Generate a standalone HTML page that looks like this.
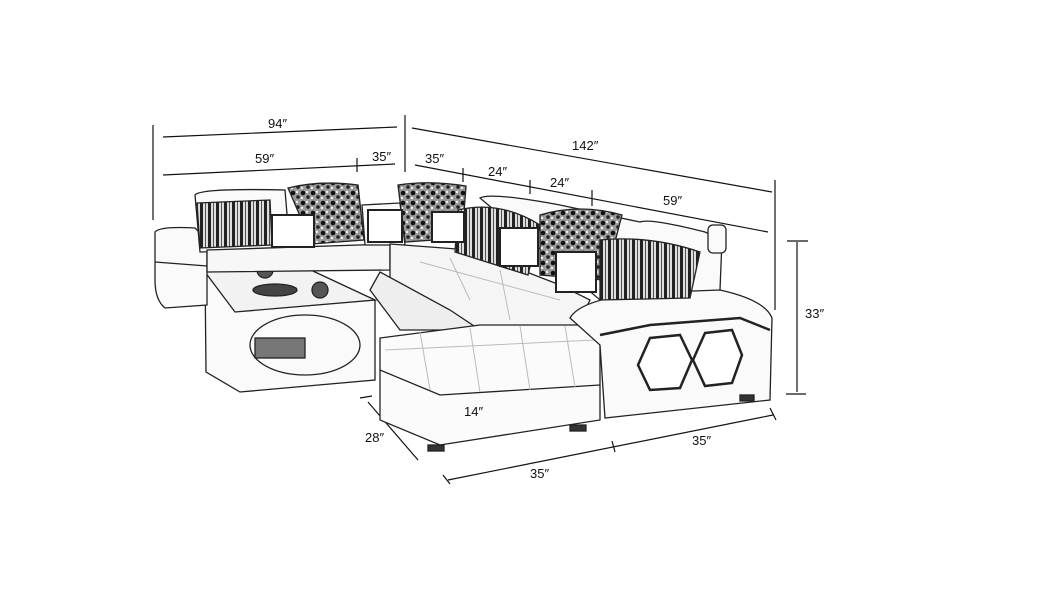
<!DOCTYPE html>
<html><head><style>
html,body{margin:0;padding:0;background:#fff}
svg{display:block}
text{font-family:"Liberation Sans",sans-serif;font-size:13px;fill:#111}
</style></head><body>
<svg width="1063" height="595" viewBox="0 0 1063 595">
<defs>
<pattern id="stripe" width="8" height="8" patternUnits="userSpaceOnUse"><rect width="8" height="8" fill="#ddd"/><rect width="3" height="8" fill="#222"/><rect x="5" width="1" height="8" fill="#555"/></pattern>
<pattern id="flor" width="10" height="10" patternUnits="userSpaceOnUse"><rect width="10" height="10" fill="#999"/><circle cx="3" cy="3" r="2.3" fill="#111"/><circle cx="8" cy="7" r="1.8" fill="#222"/><circle cx="7" cy="2" r="1.2" fill="#eee"/><circle cx="2" cy="8" r="1.2" fill="#eee"/></pattern>
</defs>
<g stroke="#111" stroke-width="1.2" fill="none">
<line x1="153" y1="125" x2="153" y2="220"/>
<line x1="405" y1="115" x2="405" y2="172"/>
<line x1="163" y1="137" x2="397" y2="127"/>
<line x1="163" y1="175" x2="395" y2="164"/>
<line x1="357" y1="158" x2="357" y2="172"/>
<line x1="412" y1="128" x2="772" y2="192"/>
<line x1="775" y1="180" x2="775" y2="310"/>
<line x1="415" y1="165" x2="768" y2="232"/>
<line x1="463" y1="168" x2="463" y2="182"/>
<line x1="530" y1="180" x2="530" y2="194"/>
<line x1="592" y1="190" x2="592" y2="206"/>
<line x1="797" y1="242" x2="797" y2="392"/>
<line x1="787" y1="241" x2="808" y2="241"/>
<line x1="786" y1="394" x2="806" y2="394"/>
<line x1="458" y1="373" x2="458" y2="440"/>
<line x1="368" y1="402" x2="418" y2="460"/>
<line x1="360" y1="398" x2="372" y2="396"/>
<line x1="448" y1="480" x2="773" y2="415"/>
<line x1="443" y1="475" x2="450" y2="484"/>
<line x1="612" y1="441" x2="615" y2="452"/>
<line x1="770" y1="408" x2="776" y2="420"/>
</g>
<g stroke="#222" stroke-width="1.3" fill="#fafafa">
<path d="M205 272 L300 265 L375 300 L375 380 L240 392 L206 372 Z"/>
<path d="M205 272 L300 265 L375 300 L235 312 Z" fill="#f2f2f2"/>
<ellipse cx="305" cy="345" rx="55" ry="30"/>
<rect x="255" y="338" width="50" height="20" fill="#777"/>
<circle cx="265" cy="270" r="8" fill="#555"/><circle cx="320" cy="290" r="8" fill="#555"/><ellipse cx="275" cy="290" rx="22" ry="6" fill="#444"/>
<path d="M155 232 Q160 226 195 228 L207 240 L207 305 L165 308 Q155 300 155 280 Z"/>
<path d="M155 262 L207 266" />
<path d="M195 195 Q200 188 285 190 L290 250 L200 252 Z"/>
<path d="M207 250 L390 244 L390 270 L207 272 Z" fill="#f7f7f7"/>
<path d="M362 205 L400 203 L405 245 L365 245 Z"/>
<path d="M480 198 Q490 192 560 205 L640 222 Q650 218 705 232 L722 240 L720 290 L600 300 Z"/>
<path d="M390 244 L470 250 L560 285 L590 300 L575 330 L480 330 L390 280 Z" fill="#f5f5f5"/>
<path d="M380 272 L450 310 L480 330 L400 330 L370 290 Z" fill="#eee"/>
<path d="M380 338 L480 325 L590 325 L600 345 L600 420 L440 445 L380 420 Z" fill="#fbfbfb"/>
<path d="M380 370 L440 395 L600 385" fill="none"/>
<g stroke="#bbb" stroke-width="1" fill="none">
<path d="M420 332 L430 390 M470 328 L480 392 M520 326 L530 390 M565 326 L575 387"/>
<path d="M385 350 L595 340"/>
<path d="M420 262 L560 300 M450 258 L470 300 M500 270 L510 320"/>
</g>
<path d="M570 318 Q580 300 640 293 L720 290 Q765 300 772 318 L770 400 L605 418 L600 345 Z"/>
<path d="M600 335 L650 325 L740 318 L770 330" fill="none" stroke-width="2.5"/>
<polygon points="650,338 680,335 692,360 680,388 650,390 638,365" fill="#fff" stroke-width="2.5"/>
<polygon points="705,333 732,330 742,355 732,383 705,386 693,360" fill="#fff" stroke-width="2.5"/>
<rect x="708" y="225" width="18" height="28" rx="5"/>
<path d="M197 203 L270 200 L272 245 L200 248 Z" fill="url(#stripe)"/>
<path d="M288 188 Q320 180 358 185 L364 240 L312 244 Z" fill="url(#flor)"/>
<path d="M398 185 Q430 180 466 186 L462 238 L405 242 Z" fill="url(#flor)"/>
<path d="M458 210 Q500 200 540 225 L528 275 L455 252 Z" fill="url(#stripe)"/>
<path d="M540 215 Q580 203 622 215 L605 280 L540 275 Z" fill="url(#flor)"/>
<path d="M600 240 Q650 235 700 252 L690 298 L600 300 Z" fill="url(#stripe)"/>
<rect x="272" y="215" width="42" height="32" fill="#fff" stroke-width="2"/>
<rect x="368" y="210" width="34" height="32" fill="#fff" stroke-width="2"/>
<rect x="432" y="212" width="32" height="30" fill="#fff" stroke-width="2"/>
<rect x="500" y="228" width="38" height="38" fill="#fff" stroke-width="2"/>
<rect x="556" y="252" width="40" height="40" fill="#fff" stroke-width="2"/>
<rect x="428" y="445" width="16" height="6" fill="#333"/>
<rect x="570" y="425" width="16" height="6" fill="#333"/>
<rect x="740" y="395" width="14" height="6" fill="#333"/>
</g>
<text x="268" y="128">94″</text>
<text x="255" y="163">59″</text>
<text x="372" y="161">35″</text>
<text x="572" y="150">142″</text>
<text x="425" y="163">35″</text>
<text x="488" y="176">24″</text>
<text x="550" y="187">24″</text>
<text x="663" y="205">59″</text>
<text x="805" y="318">33″</text>
<text x="464" y="416">14″</text>
<text x="365" y="442">28″</text>
<text x="530" y="478">35″</text>
<text x="692" y="445">35″</text>
</svg>
</body></html>
